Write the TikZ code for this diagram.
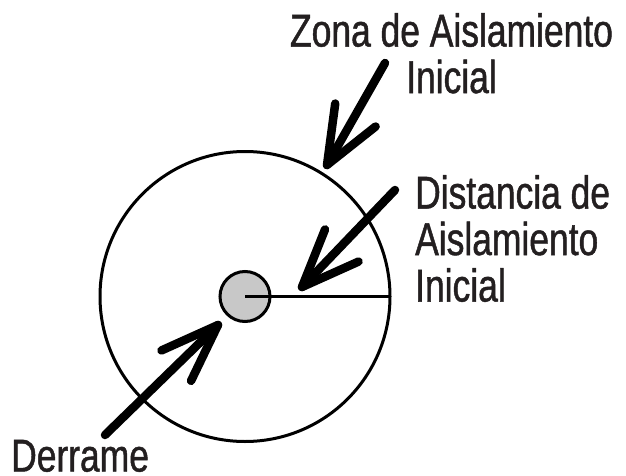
\documentclass[tikz,border=0pt]{standalone}
\usepackage{fontspec}
\setmainfont[FakeStretch=0.77,FakeBold=1]{Liberation Sans}
\usetikzlibrary{calc}
\definecolor{txt}{RGB}{35,31,32}
\definecolor{spill}{RGB}{200,200,200}
\begin{document}
\begin{tikzpicture}[x=1pt,y=-1pt,
  ring/.style={draw=black, line width=3pt, circle, inner sep=0pt, outer sep=0pt},
  bigarrow/.style={line width=8.5pt, line cap=round, line join=round},
  lbl/.style={text=txt, inner sep=0pt, font=\fontsize{46}{46.5}\selectfont}]
\path[use as bounding box] (0,0) rectangle (626,476);
% circles
\node[ring, minimum size=290pt] (zona) at (245,296.5) {};
\node[ring, minimum size=50pt, fill=spill] (derr) at (245,296.5) {};
\draw[line width=3pt] (derr.center) -- (zona.east);
% labels
\node[lbl, align=center, anchor=north] (zl) at (451.5,13) {Zona de Aislamiento\\Inicial};
\node[lbl, align=left, anchor=north west] (dl) at (415,175) {Distancia de\\Aislamiento\\Inicial};
\node[lbl, anchor=base west] (dr) at (11,471.5) {Derrame};
% arrow to zone
\coordinate (a1s) at (385,63);
\coordinate (a1t) at (327,165);
\draw[bigarrow] (a1s) -- (a1t);
\draw[bigarrow] ($(a1t)!62pt!22:(a1s)$) -- (a1t) -- ($(a1t)!62pt!-22:(a1s)$);
% arrow to distance
\coordinate (a2s) at (395,190);
\coordinate (a2t) at (302,287);
\draw[bigarrow] (a2s) -- (a2t);
\draw[bigarrow] ($(a2t)!62pt!22:(a2s)$) -- (a2t) -- ($(a2t)!62pt!-22:(a2s)$);
% arrow to spill
\coordinate (a3s) at (105,435);
\coordinate (a3t) at (218,325);
\draw[bigarrow] (a3s) -- (a3t);
\draw[bigarrow] ($(a3t)!62pt!20:(a3s)$) -- (a3t) -- ($(a3t)!62pt!-20:(a3s)$);
\end{tikzpicture}
\end{document}
